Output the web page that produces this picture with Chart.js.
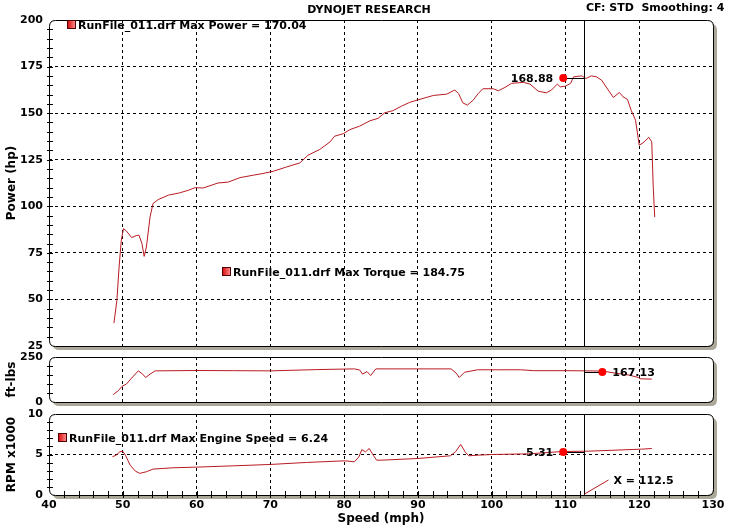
<!DOCTYPE html>
<html>
<head>
<meta charset="utf-8">
<title>Dynojet Research</title>
<script src="https://cdn.jsdelivr.net/npm/chart.js@4.4.0/dist/chart.umd.min.js"></script>
<style>
  html, body { margin: 0; padding: 0; background: #fff; }
  #wrap { position: relative; width: 737px; height: 526px; overflow: hidden; }
  #wrap canvas { position: absolute; left: 0; top: 0; }
</style>
</head>
<body>
<div id="wrap">
  <canvas id="powerChart" width="737" height="526"></canvas>
  <canvas id="torqueChart" width="737" height="526"></canvas>
  <canvas id="rpmChart" width="737" height="526"></canvas>
</div>
<script>
// Power (hp) vs speed (mph)
const powerSpeed = [48.8, 49.2, 49.5, 49.8, 50.1, 50.5, 51.2, 51.9, 52.2, 52.6, 52.9, 53.2, 53.7, 54.1, 54.8, 56.2, 57.7, 58.9, 59.8, 60.9, 62.9, 64.3, 65.9, 67.7, 69.0, 70.4, 72.2, 74.0, 75.1, 76.7, 78.1, 78.7, 79.9, 80.8, 82.1, 83.5, 84.6, 85.5, 86.6, 87.8, 88.9, 89.9, 92.1, 93.9, 95.0, 95.5, 96.1, 96.7, 97.5, 98.2, 98.8, 100.2, 100.9, 101.8, 102.7, 104.3, 105.2, 106.3, 107.4, 108.1, 108.9, 109.3, 110.0, 110.7, 111.1, 112.2, 112.8, 113.5, 114.2, 114.9, 115.8, 116.5, 117.3, 117.8, 118.4, 118.9, 119.5, 120.0, 120.5, 121.3, 121.7, 121.9, 122.1];
const powerHp = [37.3, 49.5, 67.4, 81.8, 88.0, 86.7, 83.2, 84.4, 84.4, 80.0, 73.1, 78.1, 94.3, 101.5, 103.6, 106.0, 107.2, 108.6, 110.0, 109.8, 112.5, 113.0, 115.4, 116.7, 117.6, 118.8, 121.1, 123.3, 127.4, 130.5, 134.6, 137.6, 139.0, 141.2, 143.0, 145.9, 147.2, 150.2, 151.3, 153.8, 155.8, 157.0, 159.5, 160.2, 162.4, 160.6, 155.5, 154.3, 157.0, 160.6, 163.1, 163.1, 162.0, 163.8, 166.0, 166.5, 165.6, 161.8, 160.9, 162.4, 165.6, 164.1, 164.5, 166.0, 169.5, 170.0, 168.6, 170.0, 169.5, 167.7, 162.4, 158.4, 161.1, 158.8, 157.4, 151.6, 146.2, 132.8, 134.0, 137.0, 134.6, 110.4, 94.2];

// Torque (ft-lbs) vs speed
const torqueSpeed = [48.7, 49.4, 49.9, 50.5, 51.2, 52.1, 52.7, 53.1, 53.7, 54.4, 60.0, 65.0, 70.0, 76.3, 80.1, 81.4, 82.1, 82.5, 83.1, 83.6, 84.3, 90.0, 94.5, 95.2, 95.6, 96.3, 98.1, 100.8, 103.9, 105.7, 110.0, 115.0, 116.8, 118.6, 119.9, 120.1, 121.7];
const torqueLbs = [41, 63, 87, 100, 133, 173, 155, 136, 155, 173, 175, 174, 173, 180, 183, 184, 178, 155, 169, 147, 184, 184, 184, 160, 136, 165, 179, 179, 179, 174, 174, 172, 160, 150, 136, 129, 127];

// Engine speed (RPM x1000) vs speed
const rpmSpeed = [48.6, 49.1, 49.6, 50.0, 50.4, 51.0, 51.7, 52.3, 53.2, 54.1, 56.8, 60.0, 65.0, 70.0, 74.9, 80.1, 81.4, 82.0, 82.4, 82.9, 83.4, 84.0, 84.4, 85.1, 90.0, 94.4, 95.1, 95.8, 96.4, 96.9, 98.2, 100.0, 105.0, 109.6, 113.1, 120.3, 121.7];
const rpmK = [4.72, 4.92, 5.33, 5.41, 4.84, 3.69, 2.95, 2.67, 2.87, 3.20, 3.36, 3.44, 3.60, 3.77, 4.02, 4.22, 4.10, 4.70, 5.60, 5.33, 5.74, 4.84, 4.30, 4.30, 4.51, 4.84, 5.33, 6.24, 5.33, 4.84, 4.92, 5.00, 5.08, 5.37, 5.41, 5.66, 5.74];

// cursor and marker readouts
const cursorSpeed = 112.5;
const markerSpeeds = [109.7, 115.0, 109.7];
const markerValues = [168.88, 167.13, 5.31];
const legendTexts = [
  "RunFile_011.drf Max Power = 170.04",
  "RunFile_011.drf Max Torque = 184.75",
  "RunFile_011.drf Max Engine Speed = 6.24"
];

const FONT = '"DejaVu Sans", Verdana, sans-serif';
const LINE_RED = '#b81c22';

function rrect(c, x, y, w, h, r) {
  c.beginPath();
  c.moveTo(x + r, y);
  c.lineTo(x + w - r, y);
  c.quadraticCurveTo(x + w, y, x + w, y + r);
  c.lineTo(x + w, y + h - r);
  c.quadraticCurveTo(x + w, y + h, x + w - r, y + h);
  c.lineTo(x + r, y + h);
  c.quadraticCurveTo(x, y + h, x, y + h - r);
  c.lineTo(x, y + r);
  c.quadraticCurveTo(x, y, x + r, y);
  c.closePath();
}

function legendIcon(c, x, y) {
  const g = c.createLinearGradient(x, 0, x + 9, 0);
  g.addColorStop(0, '#d80000');
  g.addColorStop(1, '#ff9a9a');
  c.fillStyle = g;
  c.fillRect(x, y, 9, 9);
  c.strokeStyle = '#500';
  c.lineWidth = 1;
  c.strokeRect(x + 0.5, y + 0.5, 8, 8);
}

const panelPlugin = {
  id: 'panel',
  beforeDraw(chart, args, o) {
    const a = chart.chartArea, c = chart.ctx;
    c.save();
    c.fillStyle = '#aca899';
    rrect(c, a.left + 4, a.top + 4, a.right - a.left, a.bottom - a.top, 6);
    c.fill();
    c.fillStyle = '#fff';
    rrect(c, a.left, a.top, a.right - a.left, a.bottom - a.top, 6);
    c.fill();
    c.restore();
  },
  afterDatasetsDraw(chart, args, o) {
    const a = chart.chartArea, c = chart.ctx;
    const xs = chart.scales.x, ys = chart.scales.y;
    c.save();
    c.font = 'bold 11px ' + FONT;
    c.textBaseline = 'middle';

    // cursor line
    const cx = Math.round(xs.getPixelForValue(cursorSpeed)) + 0.5;
    c.strokeStyle = '#000';
    c.lineWidth = 1;
    c.beginPath();
    c.moveTo(cx, a.top);
    c.lineTo(cx, a.bottom);
    c.stroke();

    // frame
    rrect(c, a.left + 0.5, a.top + 0.5, a.right - a.left, a.bottom - a.top, 6);
    c.stroke();

    // minor ticks on y axis
    for (let v = ys.min; v <= ys.max + 1e-9; v += o.minorStep) {
      const y = Math.round(ys.getPixelForValue(v)) + 0.5;
      if (v === ys.min || v === ys.max) continue;
      c.beginPath();
      c.moveTo(a.left - 2, y);
      c.lineTo(a.left + 4, y);
      c.stroke();
    }

    // ticks on the speed axis
    if (o.showX) {
      for (let v = 42; v < 130; v += 2) {
        const x = Math.round(xs.getPixelForValue(v)) + 0.5;
        c.beginPath();
        c.moveTo(x, a.bottom - 4);
        c.lineTo(x, a.bottom + 3);
        c.stroke();
      }
      // X = readout
      c.strokeStyle = LINE_RED;
      c.beginPath();
      c.moveTo(cx, a.bottom - 1);
      c.lineTo(cx + 24, a.bottom - 15);
      c.stroke();
      c.fillStyle = '#000';
      c.textAlign = 'left';
      c.fillText('X = ' + cursorSpeed, cx + 29, a.bottom - 14);
    }

    // marker dot, link line and value
    const i = o.index;
    const mx = xs.getPixelForValue(markerSpeeds[i]);
    const my = ys.getPixelForValue(markerValues[i]);
    c.strokeStyle = '#000';
    c.beginPath();
    c.moveTo(mx, Math.round(my) + 0.5);
    c.lineTo(cx, Math.round(my) + 0.5);
    c.stroke();
    c.fillStyle = '#ff0000';
    c.beginPath();
    c.arc(mx, my, 4, 0, Math.PI * 2);
    c.fill();
    c.fillStyle = '#000';
    const txt = markerValues[i].toFixed(2);
    if (o.valueSide === 'right') {
      c.textAlign = 'left';
      c.fillText(txt, mx + 10, my + 1);
    } else {
      c.textAlign = 'right';
      c.fillText(txt, mx - 10, my + 1);
    }

    // legend boxes
    c.textAlign = 'left';
    (o.legends || []).forEach(l => {
      legendIcon(c, a.left + l.dx, a.top + l.dy - 5);
      c.fillStyle = '#000';
      c.fillText(legendTexts[l.text], a.left + l.dx + 11, a.top + l.dy + 1);
    });

    // page header
    if (o.header) {
      c.textAlign = 'center';
      c.fillText('DYNOJET RESEARCH', 369, 10);
      c.textAlign = 'left';
      c.fillText('CF: STD  Smoothing: 4', 586, 8);
    }
    c.restore();
  }
};

const tickFont = { family: FONT, size: 11, weight: 'bold' };
const titleFont = { family: FONT, size: 12, weight: 'bold' };

function makePanel(id, xs, ys, cfg) {
  const pts = xs.map((x, k) => ({ x: x, y: ys[k] }));
  return new Chart(document.getElementById(id), {
    type: 'line',
    data: {
      datasets: [{
        data: pts,
        borderColor: LINE_RED,
        borderWidth: 1,
        pointRadius: 0,
        tension: 0,
        fill: false
      }]
    },
    plugins: [panelPlugin],
    options: {
      responsive: false,
      animation: false,
      events: [],
      layout: { padding: { left: 0, right: 24, top: cfg.top, bottom: cfg.bottom } },
      plugins: {
        legend: { display: false },
        tooltip: { enabled: false },
        panel: cfg
      },
      scales: {
        x: {
          type: 'linear',
          min: 40,
          max: 130,
          ticks: { display: cfg.showX, stepSize: 10, font: tickFont, color: '#000', padding: 4, maxRotation: 0 },
          grid: {
            drawTicks: false,
            color: ctx => (ctx.tick && ctx.tick.value > 40 && ctx.tick.value < 130) ? '#000' : 'rgba(0,0,0,0)'
          },
          border: { display: false, dash: [3, 3] },
          title: { display: cfg.showX, text: 'Speed (mph)', font: titleFont, color: '#000', padding: 0 },
          afterFit: s => { s.height = cfg.showX ? 31 : 0; }
        },
        y: {
          min: cfg.min,
          max: cfg.max,
          ticks: { stepSize: cfg.step, font: tickFont, color: '#000', padding: 6 },
          grid: {
            drawTicks: false,
            color: ctx => (ctx.tick && ctx.tick.value > cfg.min && ctx.tick.value < cfg.max && cfg.gridLines) ? '#000' : 'rgba(0,0,0,0)'
          },
          border: { display: false, dash: [3, 3] },
          title: { display: true, text: cfg.title, font: titleFont, color: '#000', padding: { top: 5, bottom: 0 } },
          afterFit: s => { s.width = 49; }
        }
      }
    }
  });
}

makePanel('powerChart', powerSpeed, powerHp, {
  index: 0, top: 20, bottom: 180, min: 25, max: 200, step: 25, minorStep: 5,
  gridLines: true, title: 'Power (hp)', showX: false, valueSide: 'left', header: true,
  legends: [{ dx: 18, dy: 5, text: 0 }, { dx: 173, dy: 252, text: 1 }]
});
makePanel('torqueChart', torqueSpeed, torqueLbs, {
  index: 1, top: 357, bottom: 124, min: 0, max: 250, step: 250, minorStep: 50,
  gridLines: false, title: 'ft-lbs', showX: false, valueSide: 'right', header: false,
  legends: []
});
makePanel('rpmChart', rpmSpeed, rpmK, {
  index: 2, top: 414, bottom: 0, min: 0, max: 10, step: 5, minorStep: 1,
  gridLines: true, title: 'RPM x1000', showX: true, valueSide: 'left', header: false,
  legends: [{ dx: 9, dy: 24, text: 2 }]
});
</script>
</body>
</html>
